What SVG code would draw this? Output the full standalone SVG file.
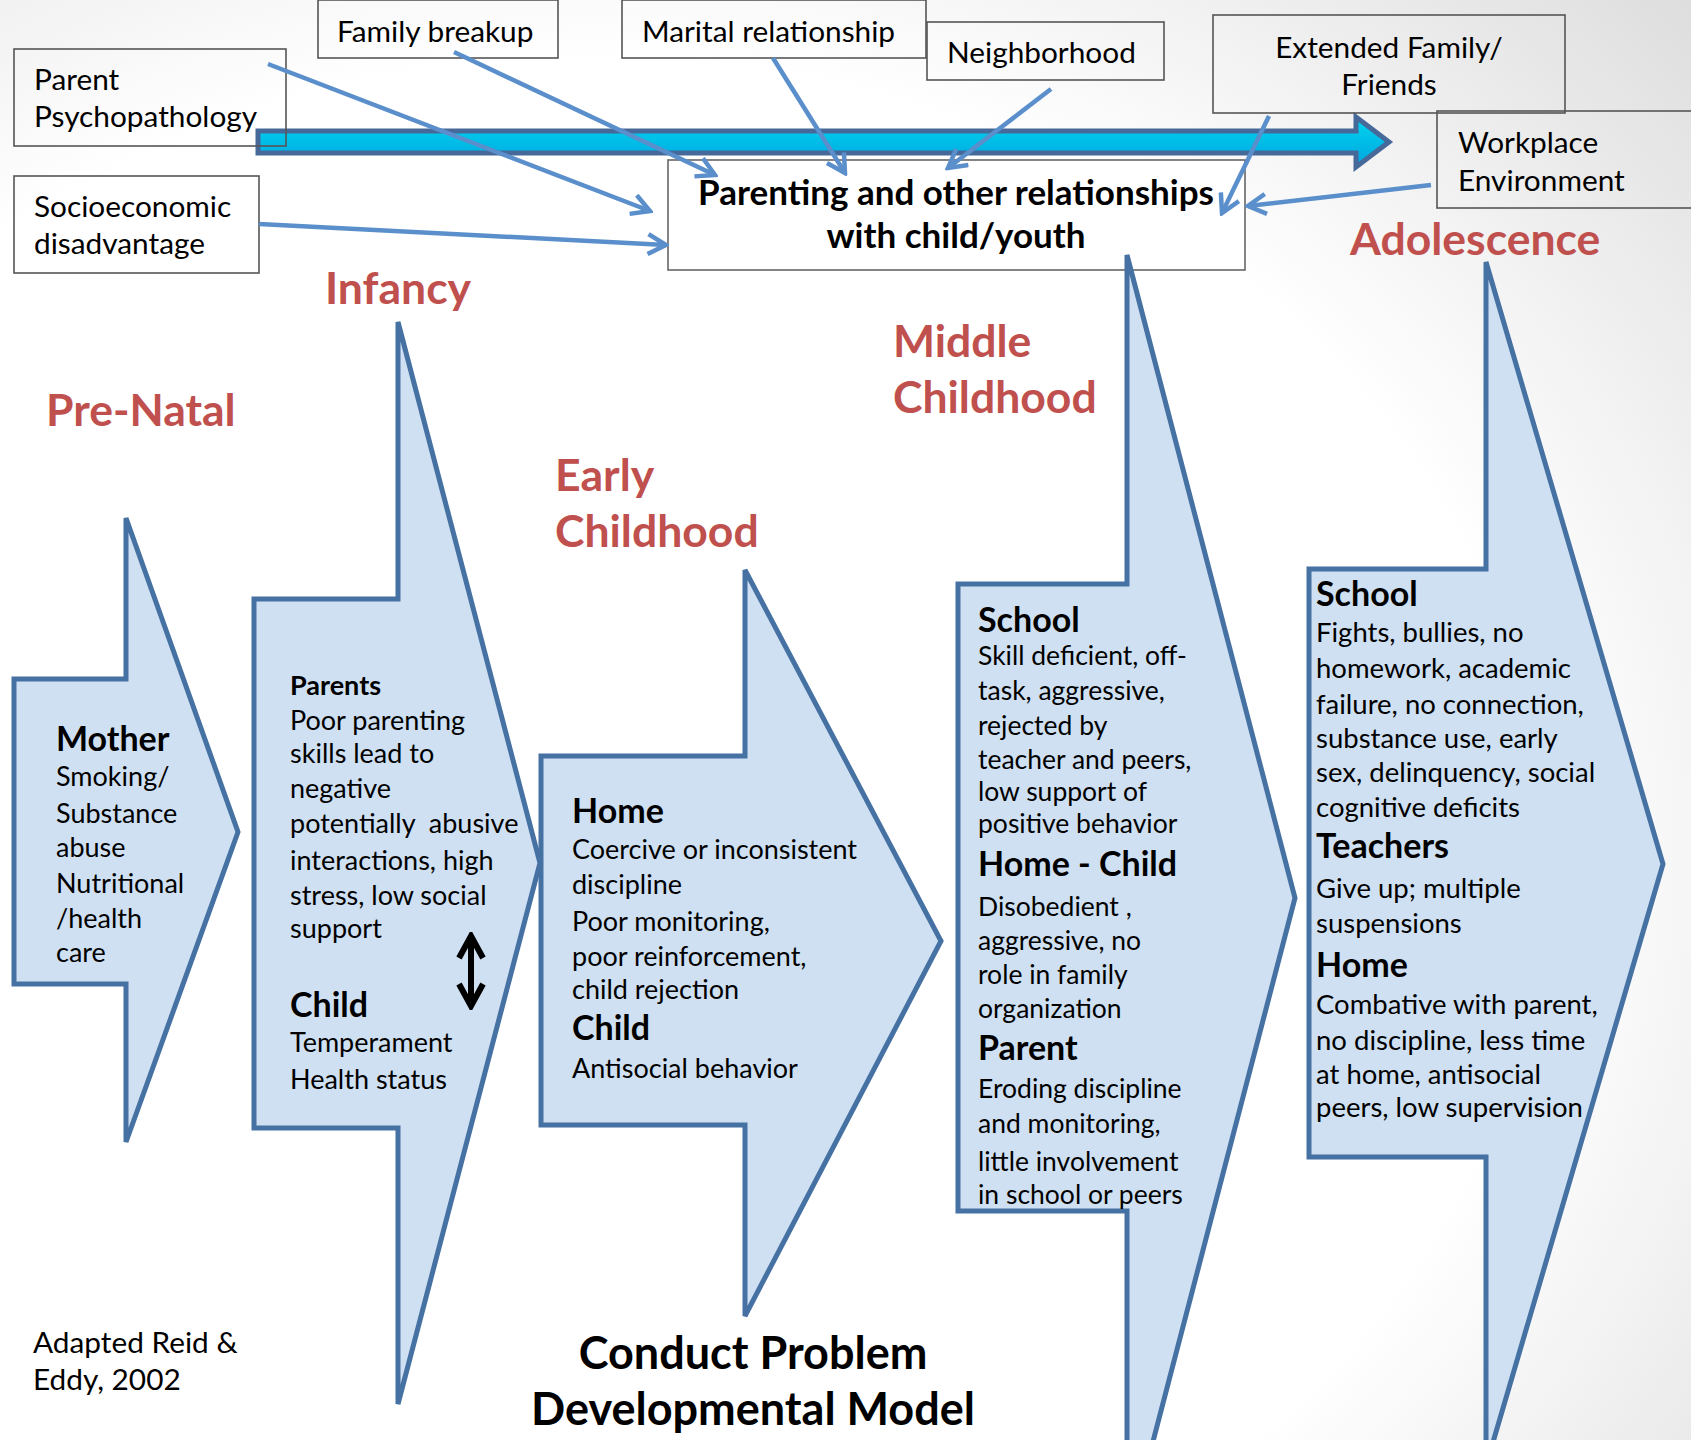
<svg xmlns="http://www.w3.org/2000/svg" width="1691" height="1440" viewBox="0 0 1691 1440">
<defs>
<radialGradient id="bg" cx="0.35" cy="0.6" r="0.9">
<stop offset="0.62" stop-color="#ffffff"/>
<stop offset="1" stop-color="#dcdcdc"/>
</radialGradient>
<linearGradient id="cyan" x1="0" y1="0" x2="0" y2="1">
<stop offset="0" stop-color="#00d6ee"/>
<stop offset="1" stop-color="#00a4e0"/>
</linearGradient>
<marker id="ah" viewBox="0 0 24 24" refX="21" refY="12" markerWidth="24" markerHeight="24" markerUnits="userSpaceOnUse" orient="auto">
<path d="M3,2 L21,12 L3,22" fill="none" stroke="#5a8fcc" stroke-width="4.5"/>
</marker>
<marker id="bk" viewBox="0 0 30 30" refX="26" refY="15" markerWidth="30" markerHeight="30" markerUnits="userSpaceOnUse" orient="auto-start-reverse">
<path d="M4,3 L26,15 L4,27" fill="none" stroke="#000" stroke-width="6"/>
</marker>
<style>
.box{fill:none;stroke:#555;stroke-width:1.6}
.t{font-family:Lato,"Liberation Sans",sans-serif;font-size:29.8px;fill:#000}
.pb{font-family:Lato,"Liberation Sans",sans-serif;font-size:35px;font-weight:700;fill:#000}
.title{font-family:Lato,"Liberation Sans",sans-serif;font-size:45px;font-weight:700;fill:#000}
.stage{font-family:Lato,"Liberation Sans",sans-serif;font-size:44.5px;font-weight:700;fill:#c0504d}
.shape{fill:#cfe0f2;stroke:#4671a3;stroke-width:5}
.b{font-family:Lato,"Liberation Sans",sans-serif;font-size:27px;fill:#000}
.m .b{font-size:26.5px}
.a .b{font-size:27.5px}
.h{font-weight:700;font-size:34px}
.hs{font-weight:700}
.conn{stroke:#5a8fcc;stroke-width:4.5;fill:none;marker-end:url(#ah)}
</style>
</defs>
<rect width="1691" height="1440" fill="url(#bg)"/>

<g id="timeline">
<path d="M258,131 L1356,131 L1356,117 L1389,142 L1356,167 L1356,153 L258,153 Z" fill="url(#cyan)" stroke="#46699a" stroke-width="5"/>
</g>

<g id="parent-psychopathology">
<rect class="box" x="14" y="49" width="272" height="97" stroke="#222"/>
<text class="t" x="34" y="90">Parent</text>
<text class="t" x="34" y="127">Psychopathology</text>
</g>
<g id="family-breakup">
<rect class="box" x="318" y="0" width="240" height="58"/>
<text class="t" x="337" y="42">Family breakup</text>
</g>
<g id="marital-relationship">
<rect class="box" x="622" y="0" width="304" height="58"/>
<text class="t" x="642" y="42">Marital relationship</text>
</g>
<g id="neighborhood">
<rect class="box" x="927" y="22" width="237" height="58"/>
<text class="t" x="947" y="63">Neighborhood</text>
</g>
<g id="extended-family">
<rect class="box" x="1213" y="15" width="352" height="98"/>
<text class="t" x="1389" y="58" text-anchor="middle">Extended Family/</text>
<text class="t" x="1389" y="95" text-anchor="middle">Friends</text>
</g>
<g id="workplace">
<rect class="box" x="1437" y="111" width="270" height="97"/>
<text class="t" x="1458" y="153">Workplace</text>
<text class="t" x="1458" y="191">Environment</text>
</g>
<g id="socioeconomic">
<rect class="box" x="14" y="176" width="245" height="97"/>
<text class="t" x="34" y="217">Socioeconomic</text>
<text class="t" x="34" y="254">disadvantage</text>
</g>
<g id="parenting">
<rect x="668" y="160" width="577" height="110" fill="#fff" stroke="#666" stroke-width="1.6"/>
<text class="pb" x="956" y="205" text-anchor="middle">Parenting and other relationships</text>
<text class="pb" x="956" y="248" text-anchor="middle">with child/youth</text>
</g>

<g id="connectors">
<line class="conn" x1="268" y1="64" x2="650" y2="211"/>
<line class="conn" x1="454" y1="52" x2="715" y2="175"/>
<line class="conn" x1="773" y1="58" x2="845" y2="173"/>
<line class="conn" x1="1051" y1="89" x2="948" y2="168"/>
<line class="conn" x1="1269" y1="116" x2="1222" y2="213"/>
<line class="conn" x1="1431" y1="185" x2="1248" y2="206"/>
<line class="conn" x1="259" y1="224" x2="666" y2="245"/>
</g>

<g id="stage-labels">
<text class="stage" x="325" y="304">Infancy</text>
<text class="stage" x="46" y="426">Pre-Natal</text>
<text class="stage" x="555" y="491">Early</text>
<text class="stage" x="555" y="547">Childhood</text>
<text class="stage" x="893" y="357">Middle</text>
<text class="stage" x="893" y="413">Childhood</text>
<text class="stage" x="1350" y="255">Adolescence</text>
</g>

<g id="prenatal">
<path class="shape" d="M14,679 H126 V518 L238,832 L126,1142 V984 H14 Z"/>
<text class="b" x="56" y="751"><tspan class="h">Mother</tspan></text>
<text class="b" x="56" y="786">Smoking/</text>
<text class="b" x="56" y="823">Substance</text>
<text class="b" x="56" y="857">abuse</text>
<text class="b" x="56" y="893">Nutritional</text>
<text class="b" x="56" y="928">/health</text>
<text class="b" x="56" y="962">care</text>
</g>

<g id="infancy">
<path class="shape" d="M254,599 H398 V322 L540,863 L398,1404 V1128 H254 Z"/>
<text class="b" x="290" y="695"><tspan class="hs">Parents</tspan></text>
<text class="b" x="290" y="730">Poor parenting</text>
<text class="b" x="290" y="763">skills lead to</text>
<text class="b" x="290" y="798">negative</text>
<text class="b" x="290" y="833" xml:space="preserve">potentially  abusive</text>
<text class="b" x="290" y="870">interactions, high</text>
<text class="b" x="290" y="905">stress, low social</text>
<text class="b" x="290" y="938">support</text>
<text class="b" x="290" y="1017"><tspan class="h">Child</tspan></text>
<text class="b" x="290" y="1052">Temperament</text>
<text class="b" x="290" y="1089">Health status</text>
<line x1="471" y1="936" x2="471" y2="1006" stroke="#000" stroke-width="6" marker-start="url(#bk)" marker-end="url(#bk)"/>
</g>

<g id="early-childhood">
<path class="shape" d="M541,756 H745 V570 L941,941 L745,1316 V1125 H541 Z"/>
<text class="b" x="572" y="823"><tspan class="h">Home</tspan></text>
<text class="b" x="572" y="859">Coercive or inconsistent</text>
<text class="b" x="572" y="894">discipline</text>
<text class="b" x="572" y="931">Poor monitoring,</text>
<text class="b" x="572" y="966">poor reinforcement,</text>
<text class="b" x="572" y="999">child rejection</text>
<text class="b" x="572" y="1040"><tspan class="h">Child</tspan></text>
<text class="b" x="572" y="1078">Antisocial behavior</text>
</g>

<g id="middle-childhood" class="m">
<path class="shape" d="M958,584 H1127 V255 L1295,898 L1127,1541 V1211 H958 Z"/>
<text class="b" x="978" y="632"><tspan class="h">School</tspan></text>
<text class="b" x="978" y="665">Skill deficient, off-</text>
<text class="b" x="978" y="700">task, aggressive,</text>
<text class="b" x="978" y="735">rejected by</text>
<text class="b" x="978" y="769">teacher and peers,</text>
<text class="b" x="978" y="801">low support of</text>
<text class="b" x="978" y="833">positive behavior</text>
<text class="b" x="978" y="876"><tspan class="h">Home - Child</tspan></text>
<text class="b" x="978" y="916">Disobedient ,</text>
<text class="b" x="978" y="950">aggressive, no</text>
<text class="b" x="978" y="984">role in family</text>
<text class="b" x="978" y="1018">organization</text>
<text class="b" x="978" y="1060"><tspan class="h">Parent</tspan></text>
<text class="b" x="978" y="1098">Eroding discipline</text>
<text class="b" x="978" y="1133">and monitoring,</text>
<text class="b" x="978" y="1171">little involvement</text>
<text class="b" x="978" y="1204">in school or peers</text>
</g>

<g id="adolescence" class="a">
<path class="shape" d="M1309,569 H1486 V262 L1663,864 L1486,1466 V1157 H1309 Z"/>
<text class="b" x="1316" y="606"><tspan class="h">School</tspan></text>
<text class="b" x="1316" y="642">Fights, bullies, no</text>
<text class="b" x="1316" y="678">homework, academic</text>
<text class="b" x="1316" y="714">failure, no connection,</text>
<text class="b" x="1316" y="748">substance use, early</text>
<text class="b" x="1316" y="782">sex, delinquency, social</text>
<text class="b" x="1316" y="817">cognitive deficits</text>
<text class="b" x="1316" y="858"><tspan class="h">Teachers</tspan></text>
<text class="b" x="1316" y="898">Give up; multiple</text>
<text class="b" x="1316" y="933">suspensions</text>
<text class="b" x="1316" y="977"><tspan class="h">Home</tspan></text>
<text class="b" x="1316" y="1014">Combative with parent,</text>
<text class="b" x="1316" y="1050">no discipline, less time</text>
<text class="b" x="1316" y="1084">at home, antisocial</text>
<text class="b" x="1316" y="1117">peers, low supervision</text>
</g>

<g id="credit">
<text class="t" x="33" y="1353">Adapted Reid &amp;</text>
<text class="t" x="33" y="1390">Eddy, 2002</text>
</g>
<g id="title">
<text class="title" x="753" y="1369" text-anchor="middle">Conduct Problem</text>
<text class="title" x="753" y="1425" text-anchor="middle">Developmental Model</text>
</g>
</svg>
